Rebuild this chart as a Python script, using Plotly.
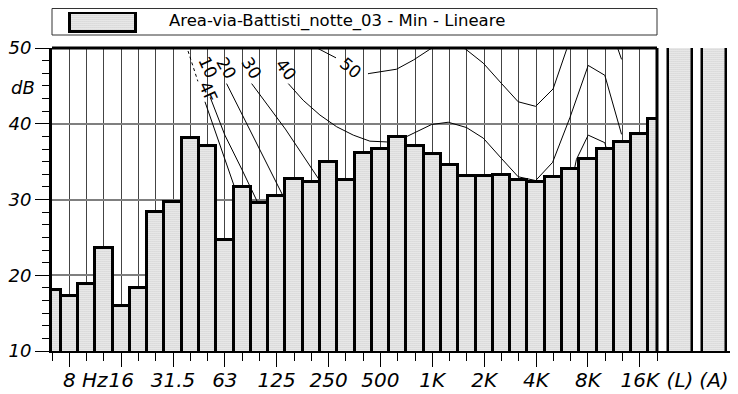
import plotly.graph_objects as go

# ---------------- data ----------------
bands = ['6.3', '8', '10', '12.5', '16', '20', '25', '31.5', '40', '50', '63', '80',
         '100', '125', '160', '200', '250', '315', '400', '500', '630', '800', '1K',
         '1.25K', '1.6K', '2K', '2.5K', '3.15K', '4K', '5K', '6.3K', '8K', '10K',
         '12.5K', '16K', '20K']
levels = [18.1, 17.2, 18.9, 23.6, 16.0, 18.3, 28.4, 29.7, 38.1, 37.1, 24.65, 31.6,
          29.5, 30.5, 32.7, 32.35, 35.0, 32.6, 36.1, 36.7, 38.3, 37.0, 36.0,
          34.6, 33.1, 33.1, 33.2, 32.6, 32.35, 33.0, 34.05, 35.3, 36.7,
          37.6, 38.6, 40.6]

total_labels = ['(L)', '(A)']
total_levels = [57.0, 55.0]   # above the top of the scale (clipped)

label_bands = ['8', '16', '31.5', '63', '125', '250', '500', '1K', '2K', '4K', '8K', '16K']
label_texts = ['<span style="color:rgba(0,0,0,0)">Hz </span>8 Hz', '16', '31.5', '63',
               '125', '250', '500', '1K', '2K', '4K', '8K', '16K']

series_name = 'Area-via-Battisti_notte_03 - Min - Lineare'

# contour lines (band-index position, dB)
thr_dot_x = [7.87, 8.44]
thr_dot_y = [49.6, 45.6]
thr_x = [8.85, 9.7, 10.55]
thr_y = [42.9, 37.4, 31.7]
c10_x = [9.15, 10.0, 11.0, 11.9]
c10_y = [43.5, 38.5, 33.9, 29.6]
c20_x = [10.1, 11.68, 13.28, 13.8]
c20_y = [45.3, 38.1, 30.8, 28.5]
c30_x = [11.55, 13.5, 15.4, 15.9, None, 30.0, 30.34, 31.02, 31.98, 32.5]
c30_y = [45.3, 39.3, 32.8, 31.0, None, 31.5, 35.3, 38.5, 37.5, 33.0]
c40_x = [13.67, 14.53, 15.5, 16.47, 17.43, 18.39, 19.37, 20.51, 21.96, 22.92, 23.98,
         24.95, 26.01, 26.97, 27.98, 28.96, 29.96, 31.02, 31.98, 32.95]
c40_y = [45.3, 43.1, 41.15, 39.6, 38.5, 37.7, 37.6, 38.3, 39.9, 40.2, 39.5,
         38.1, 35.4, 33.0, 32.5, 34.9, 40.8, 47.7, 46.4, 38.6]
c50_x = [15.1, 15.33, 16.43, None, 18.28, 18.39, 19.93, 20.9, 21.86, 22.5, 23.9, 24.95,
         26.01, 26.97, 27.98, 28.99, 29.77, 30.2, 32.3, 32.75, 32.95]
c50_y = [50.4, 50.0, 48.7, None, 46.6, 46.65, 47.2, 48.4, 49.83, 50.6, 49.9, 48.0,
         45.3, 42.9, 42.3, 44.6, 49.8, 52.0, 52.0, 49.8, 48.5]

curve_labels = ['10', '4F', '20', '30', '40', '50']
curve_label_x = [9.05, 9.05, 10.1, 11.55, 13.56, 17.29]
curve_label_y = [47.4, 44.2, 47.4, 47.4, 47.1, 47.4]
curve_label_angle = [65, 65, 60, 58, 52, 40]

# ---------------- layout geometry ----------------
# the page places the figure 8 px from the top-left corner of the window
OFF = 8
W, H = 738 - OFF, 394 - OFF
ML, MR, MT, MB = 52 - OFF, 1, 0, 43
PW, PH = W - ML - MR, H - MT - MB
D = (657 - 52) / PW          # end of main plotting region
YD = 303 / PH                # top of main plotting region


def py(y_page):
    """page y pixel -> paper y"""
    return (PH - (y_page - OFF)) / PH


def px(x_page):
    """page x pixel -> paper x"""
    return (x_page - 52) / PW


idx = list(range(len(bands)))
FONT = 'DejaVu Sans'

pattern = dict(shape='.', fgcolor='black', bgcolor='white', size=2, solidity=0.3,
               fillmode='overlay')

fig = go.Figure()

for xs, ys, dash in [(thr_dot_x, thr_dot_y, 'dot'), (thr_x, thr_y, 'solid'),
                     (c10_x, c10_y, 'solid'), (c20_x, c20_y, 'solid'),
                     (c30_x, c30_y, 'solid'), (c40_x, c40_y, 'solid'),
                     (c50_x, c50_y, 'solid')]:
    fig.add_trace(go.Scatter(x=xs, y=ys, mode='lines', connectgaps=False,
                             line=dict(color='black', width=1, dash=dash),
                             hoverinfo='skip', showlegend=False,
                             xaxis='x', yaxis='y'))

fig.add_trace(go.Bar(x=idx, y=levels, width=1, name=series_name,
                     marker=dict(color='white', line=dict(color='black', width=3),
                                 pattern=pattern),
                     showlegend=False, xaxis='x4', yaxis='y4'))

fig.add_trace(go.Bar(x=total_labels, y=total_levels, width=0.7,
                     marker=dict(color='white', line=dict(color='black', width=2.5),
                                 pattern=pattern),
                     showlegend=False, xaxis='x2', yaxis='y2'))

# legend swatch
fig.add_trace(go.Bar(x=[series_name], y=[1], width=1,
                     marker=dict(color='white', line=dict(color='black', width=3),
                                 pattern=pattern),
                     showlegend=False, xaxis='x3', yaxis='y3', hoverinfo='skip'))

tick_font = dict(family=FONT, size=20, color='black', style='italic')

fig.update_layout(
    width=W, height=H,
    margin=dict(l=ML, r=MR, t=MT, b=MB, pad=0, autoexpand=False),
    paper_bgcolor='white', plot_bgcolor='white',
    showlegend=False, bargap=0,
    font=dict(family=FONT, color='black'),
    xaxis=dict(domain=[0, D], range=[0, len(bands) - 1], anchor='y',
               tickmode='array', tickvals=[bands.index(b) for b in label_bands],
               ticktext=label_texts, tickfont=tick_font, tickangle=0, automargin=False,
               ticklabelstandoff=-4,
               ticks='outside', ticklen=14, tickcolor='black', tickwidth=1,
               showgrid=True, gridcolor='#444444', gridwidth=1,
               minor=dict(tickmode='linear', tick0=0, dtick=1, ticks='outside',
                          ticklen=8, tickcolor='black', tickwidth=1,
                          showgrid=True, gridcolor='#444444', gridwidth=1),
               showline=True, linecolor='black', linewidth=1.5,
               zeroline=False, fixedrange=True),
    yaxis=dict(domain=[0, YD], range=[10, 50], anchor='x', automargin=False,
               tickmode='linear', tick0=10, dtick=10,
               tickfont=dict(family=FONT, size=18, color='black', style='italic'),
               ticks='outside', ticklen=14, tickcolor='black', tickwidth=1,
               showgrid=True, gridcolor='#7f7f7f', gridwidth=2,
               minor=dict(tickmode='linear', tick0=10, dtick=10 / 6, ticks='outside',
                          ticklen=7, tickcolor='black', tickwidth=1, showgrid=False),
               showline=True, linecolor='black', linewidth=3,
               zeroline=False, fixedrange=True),
    xaxis4=dict(overlaying='x', range=[0, len(bands) - 1], visible=False, anchor='y4'),
    yaxis4=dict(overlaying='y', range=[10, 50], visible=False, anchor='x4'),
    xaxis2=dict(domain=[D, 1], type='category', range=[-0.676, 1.676], anchor='y2',
                ticks='', tickfont=tick_font, tickangle=0, automargin=False,
                ticklabelstandoff=10,
                showgrid=False,
                showline=True, linecolor='black', linewidth=1.5, fixedrange=True),
    yaxis2=dict(domain=[0, YD], range=[10, 50], visible=False, anchor='x2'),
    xaxis3=dict(domain=[px(68), px(138)], range=[-0.53, 0.53],
                type='category', visible=False, anchor='y3'),
    yaxis3=dict(domain=[py(33), py(12)], range=[-0.07, 1.07],
                visible=False, anchor='x3'),
)

# frame (top and right heavy border) and legend box
fig.add_shape(type='line', xref='paper', yref='paper', x0=0, x1=D, y0=YD, y1=YD,
              line=dict(color='black', width=3))
fig.add_shape(type='line', xref='paper', yref='paper', x0=D, x1=D, y0=0, y1=YD,
              line=dict(color='black', width=3))
fig.add_shape(type='rect', xref='paper', yref='paper', x0=0, x1=D,
              y0=py(35), y1=py(8.5),
              line=dict(color='#333333', width=1), fillcolor='rgba(0,0,0,0)',
              layer='below')

fig.add_annotation(text=series_name, xref='paper', yref='paper',
                   x=px(167), y=py(21.5), xanchor='left', yanchor='middle',
                   showarrow=False, font=dict(family=FONT, size=16.5, color='black'))

fig.add_annotation(text='dB', xref='paper', yref='y', x=px(37), y=44.8,
                   xanchor='right', yanchor='middle', showarrow=False,
                   font=dict(family=FONT, size=18, color='black', style='italic'))

for t, lx, ly, ang in zip(curve_labels, curve_label_x, curve_label_y, curve_label_angle):
    fig.add_annotation(text=t, x=lx, y=ly, xref='x', yref='y', showarrow=False,
                       textangle=ang, font=dict(family=FONT, size=17, color='black'))

fig.write_html('out.html')
